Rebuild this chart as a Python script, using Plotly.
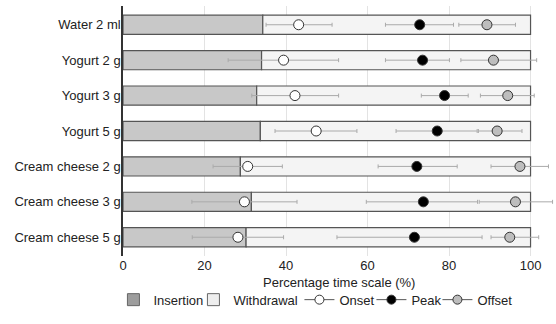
import plotly.graph_objects as go

categories = ["Water 2 ml", "Yogurt 2 g", "Yogurt 3 g", "Yogurt 5 g",
              "Cream cheese 2 g", "Cream cheese 3 g", "Cream cheese 5 g"]
insertion = [34.3, 34.0, 32.8, 33.7, 28.8, 31.5, 30.2]
total = [100, 100, 100, 100, 100, 100, 100]

onset = [43.1, 39.4, 42.2, 47.4, 30.6, 29.8, 28.2]
onset_lo = [35.1, 25.8, 31.6, 37.3, 22.1, 16.9, 17.0]
onset_hi = [51.3, 52.9, 52.9, 57.4, 39.1, 42.7, 39.4]

peak = [72.8, 73.5, 78.9, 77.1, 72.1, 73.7, 71.5]
peak_lo = [64.4, 64.4, 73.2, 67.0, 62.6, 59.7, 52.5]
peak_hi = [81.1, 80.1, 84.7, 86.9, 82.0, 87.0, 88.1]

offset = [89.3, 90.9, 94.4, 91.8, 97.4, 96.3, 94.9]
offset_lo = [82.4, 82.9, 87.7, 87.2, 90.3, 87.4, 90.3]
offset_hi = [96.3, 101.5, 100.9, 97.9, 104.4, 105.4, 102.0]

x_title = "Percentage time scale (%)"

withdrawal = [t - i for t, i in zip(total, insertion)]

FONT = "Liberation Sans, Arial, sans-serif"
fig = go.Figure()

def add_bar(xvals, base, name, fill, legend_fill, lw):
    fig.add_trace(go.Bar(y=categories, x=xvals, base=base, orientation="h",
                         name=name, width=0.54, showlegend=False,
                         marker=dict(color=fill, line=dict(color="#555555", width=1.2))))
    fig.add_trace(go.Bar(y=[None], x=[None], orientation="h", name=name,
                         legendwidth=lw,
                         marker=dict(color=legend_fill, line=dict(color="#666666", width=1))))

add_bar(insertion, [0] * len(categories), "Insertion", "#c8c8c8", "#9d9d9d", 35)
add_bar(withdrawal, insertion, "Withdrawal", "#f4f4f4", "#eeeeee", 61)

def add_points(vals, lo, hi, name, fill, lw):
    fig.add_trace(go.Scatter(
        y=categories, x=vals, mode="markers", showlegend=False, name=name,
        marker=dict(size=10, color=fill, line=dict(color="#333333", width=1)),
        error_x=dict(type="data", symmetric=False,
                     array=[h - v for h, v in zip(hi, vals)],
                     arrayminus=[v - l for v, l in zip(vals, lo)],
                     color="#aaaaaa", thickness=1, width=2)))
    fig.add_trace(go.Scatter(
        y=[None], x=[None], mode="lines+markers", name=name, legendwidth=lw,
        line=dict(color="#555555", width=1),
        marker=dict(size=9, color=fill, line=dict(color="#333333", width=1))))

add_points(onset, onset_lo, onset_hi, "Onset", "#ffffff", 27)
add_points(peak, peak_lo, peak_hi, "Peak", "#000000", 21)
add_points(offset, offset_lo, offset_hi, "Offset", "#bdbdbd", 37)

fig.add_annotation(text=x_title, xref="paper", yref="paper", x=0.5, y=-0.106,
                   xanchor="center", yanchor="middle", showarrow=False,
                   font=dict(size=13, family=FONT, color="#222222"))

fig.update_layout(
    width=556, height=324,
    margin=dict(l=123, r=1, t=6, b=68, autoexpand=False),
    barmode="overlay",
    plot_bgcolor="white", paper_bgcolor="white",
    font=dict(family=FONT, size=13, color="#222222"),
    showlegend=True,
    legend=dict(orientation="h", xref="container", yref="container",
                x=0.204, xanchor="left", y=0.075, yanchor="middle",
                font=dict(size=13), itemwidth=30, tracegroupgap=0,
                traceorder="normal"),
    xaxis=dict(range=[0, 106], tickvals=[0, 20, 40, 60, 80, 100],
               showgrid=True, gridcolor="#e3e3e3", gridwidth=1,
               zeroline=False, showline=False, ticks="", automargin=False),
    yaxis=dict(categoryorder="array", categoryarray=categories,
               autorange="reversed", showgrid=False, zeroline=False,
               automargin=False, ticklabelstandoff=-2,
               showline=True, linecolor="#333333", linewidth=1.5, ticks=""),
)

fig.write_html("out.html", config={"displayModeBar": False},
               post_script="document.body.style.margin='0px';")
